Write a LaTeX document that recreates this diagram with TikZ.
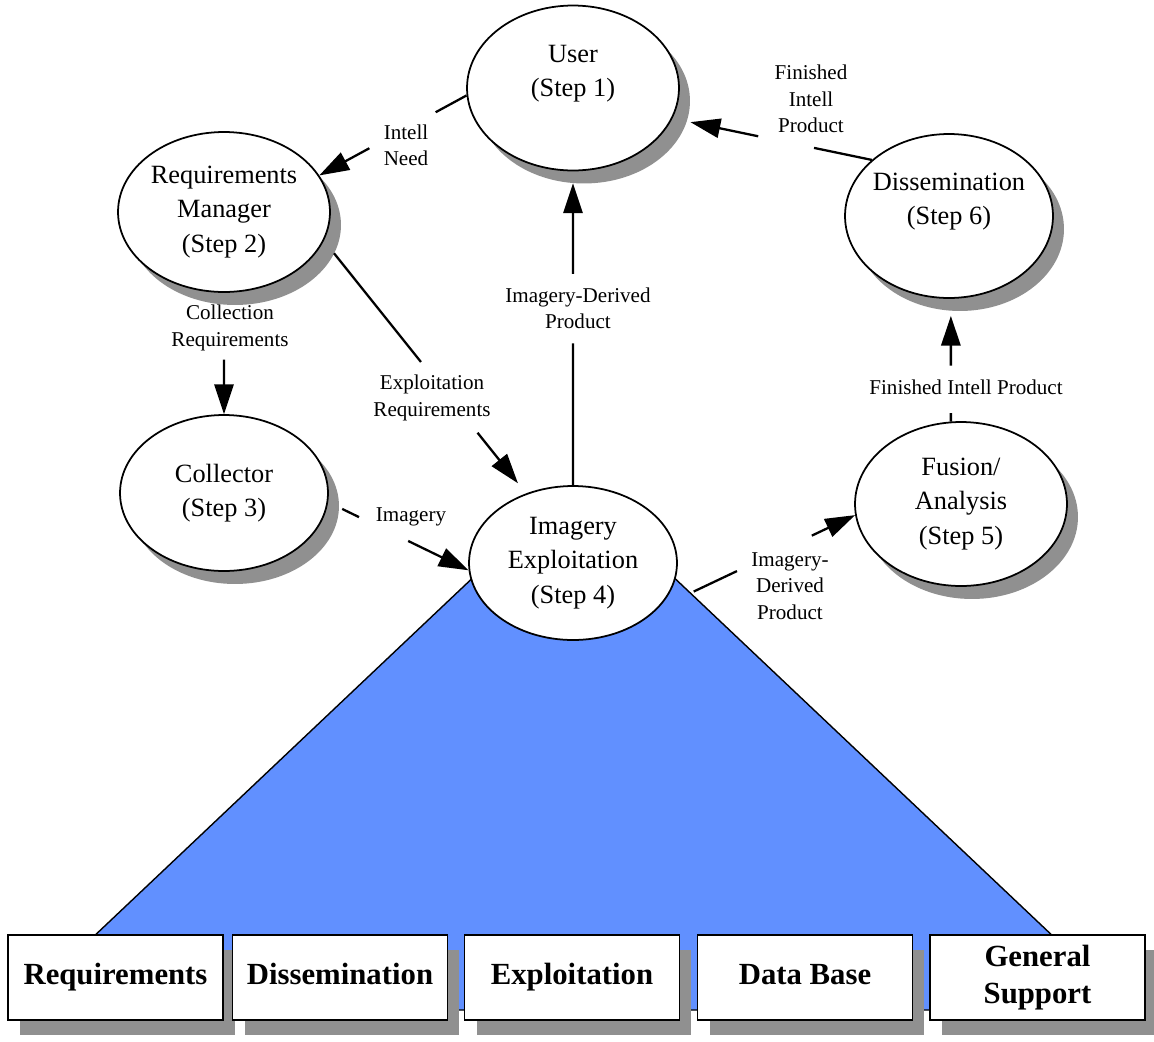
\documentclass[tikz,border=0pt]{standalone}
\usepackage{fontspec}
\setmainfont{Liberation Serif}
\usetikzlibrary{arrows.meta,shapes.geometric,shadows,calc}

\definecolor{shadowgray}{HTML}{909090}
\definecolor{baseblue}{HTML}{6190FF}

\tikzset{
  stepnode/.style={ellipse, draw, line width=1pt, fill=white, inner sep=0pt, align=center, font=\fontsize{15}{19.5}\selectfont},
  withshadow/.style={drop shadow={shadow xshift=0.22cm, shadow yshift=-0.26cm, fill=shadowgray, opacity=1}},
  areabox/.style={rectangle, draw, line width=1pt, fill=white, minimum width=4.3cm, minimum height=1.7cm, align=center, text height=12pt, text depth=4pt, font=\fontsize{17.5}{21}\selectfont\bfseries, drop shadow={shadow xshift=0.24cm, shadow yshift=-0.3cm, fill=shadowgray, opacity=1}},
  flowlabel/.style={align=center, font=\fontsize{12}{15}\selectfont},
  link/.style={line width=1.3pt},
  linkarrow/.style={line width=1.3pt, -{Triangle[length=17pt,width=11pt]}}
}

\begin{document}
\begin{tikzpicture}[x=0.02cm, y=-0.02cm]
  \useasboundingbox (0,0) rectangle (1154,1042);
  \draw[line width=0.8pt, fill=baseblue] (16,1010) -- (555,500) -- (592,500) -- (1131,1010) -- cycle;

  \begin{scope}[every node/.style={stepnode}]
    \node[withshadow, minimum width=4.24cm, minimum height=3.3cm] (user) at (573,88) {User\\(Step 1)\\\mbox{}};
    \node[withshadow, minimum width=4.24cm, minimum height=3.2cm] (reqman) at (224,212) {Requirements\\Manager\\(Step 2)};
    \node[withshadow, minimum width=4.16cm, minimum height=3.12cm] (collector) at (224,493) {Collector\\(Step 3)};
    \node[minimum width=4.16cm, minimum height=3.08cm] (imgexp) at (573,563) {Imagery\\Exploitation\\(Step 4)};
    \node[withshadow, minimum width=4.24cm, minimum height=3.28cm] (fusion) at (961,504) {Fusion/\\Analysis\\(Step 5)};
    \node[withshadow, minimum width=4.16cm, minimum height=3.28cm, inner xsep=-0.12cm] (dissem) at (949,216) {Dissemination\\(Step 6)\\\mbox{}};
  \end{scope}

  \path (imgexp.north |- user.south) ++(0,12) coordinate (usertip);
  \path (fusion.97 |- dissem.south) ++(0,17) coordinate (dissemtip);

  \draw[link] (user.184) -- ($(user.184)!.21!(reqman.21)$);
  \draw[linkarrow] ($(user.184)!.66!(reqman.21)$) -- (reqman.21);
  \draw[link] (dissem.144) -- ($(dissem.144)!.29!(user.343)$);
  \draw[linkarrow] ($(dissem.144)!.57!(user.343)$) -- ($(dissem.144)!.91!(user.343)$);
  \draw[linkarrow] ($(reqman.south)!.55!(collector.north)$) -- (collector.north);
  \draw[link] ($(reqman.344)!.05!(imgexp.124)$) -- ($(reqman.344)!.48!(imgexp.124)$);
  \draw[linkarrow] ($(reqman.344)!.76!(imgexp.124)$) -- ($(reqman.344)!.96!(imgexp.124)$);
  \draw[link] ($(collector.355)!.10!(imgexp.184)$) -- ($(collector.355)!.22!(imgexp.184)$);
  \draw[linkarrow] ($(collector.355)!.57!(imgexp.184)$) -- (imgexp.184);
  \draw[link] (imgexp.north) -- ($(imgexp.north)!.47!(usertip)$);
  \draw[linkarrow] ($(imgexp.north)!.70!(usertip)$) -- (usertip);
  \draw[link] ($(imgexp.332)!.18!(fusion.186)$) -- ($(imgexp.332)!.40!(fusion.186)$);
  \draw[linkarrow] ($(imgexp.332)!.78!(fusion.186)$) -- (fusion.186);
  \draw[link] (fusion.97) -- ($(fusion.97)!.08!(dissemtip)$);
  \draw[linkarrow] ($(fusion.97)!.53!(dissemtip)$) -- (dissemtip);

  \begin{scope}[every node/.style={flowlabel}]
    \node (needlbl) at (406,145) {Intell\\Need};
    \node (finlbl) at (811,99) {Finished\\Intell\\Product};
    \node (colllbl) at (230,328) {Collection\\Requirements};
    \node (exploitlbl) at (432,398) {Exploitation\\Requirements};
    \node (imglbl) at (411,517) {Imagery};
    \node (idplbl) at (578,308) {Imagery-Derived\\Product};
    \node (idp2lbl) at (790,586) {Imagery-\\Derived\\Product};
    \node (fin2lbl) at (966,387) {Finished Intell Product};
  \end{scope}

  \begin{scope}[every node/.style={areabox}]
    \node (reqbox) at (115.5,977.5) {Requirements};
    \node (disbox) at (340,977.5) {Dissemination};
    \node (expbox) at (572,977.5) {Exploitation};
    \node (dbbox) at (805,977.5) {Data Base};
    \node[text height=, text depth=] (supbox) at (1037.5,977.5) {General\\Support};
  \end{scope}
\end{tikzpicture}
\end{document}
